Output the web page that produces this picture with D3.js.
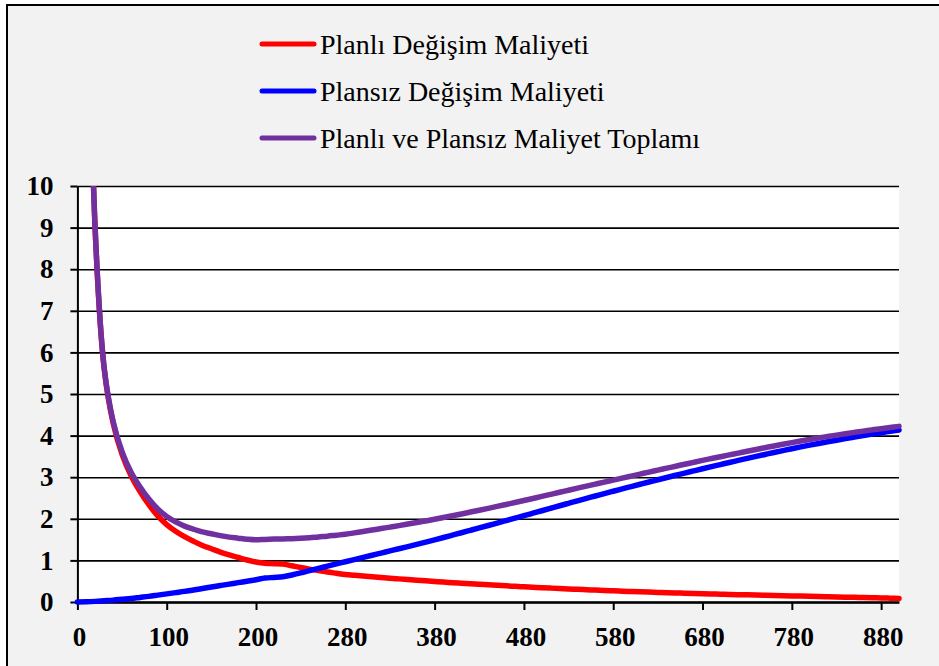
<!DOCTYPE html>
<html>
<head>
<meta charset="utf-8">
<script src="https://cdn.jsdelivr.net/npm/d3@7"></script>
<style>
html,body{margin:0;padding:0;background:#ffffff;overflow:hidden;}
svg{display:block;}
</style>
</head>
<body>
<svg id="chart" width="939" height="666"></svg>
<script>
// ---- DATA ----
const xCategories = [0,10,20,30,40,50,60,70,80,90,100,110,120,130,140,150,160,170,180,190,200,200,200,
  210,220,230,240,250,260,270,280,290,300,310,320,330,340,350,360,370,380,390,400,410,420,430,440,450,460,470,
  480,490,500,510,520,530,540,550,560,570,580,590,600,610,620,630,640,650,660,670,680,690,700,710,720,730,
  740,750,760,770,780,790,800,810,820,830,840,850,860,870,880,890,900];

const plannedCost = [null,17.5,8.9,5.6,4.3,3.55,3.04,2.66,2.34,2.07,1.86,1.7,1.57,1.46,1.36,1.28,1.2,1.13,1.07,1.01,0.96,
  0.93,0.922,0.912,0.87,0.83,0.79,0.755,0.72,0.69,0.66,
  0.642,0.624,0.606,0.589,0.572,0.556,0.54,0.524,0.509,0.494,
  0.479,0.465,0.452,0.439,0.426,0.413,0.401,0.389,0.377,0.366,
  0.355,0.344,0.334,0.324,0.314,0.304,0.295,0.286,0.277,0.268,
  0.26,0.252,0.245,0.238,0.231,0.224,0.218,0.212,0.206,0.2,
  0.194,0.188,0.182,0.177,0.172,0.167,0.162,0.157,0.152,0.147,
  0.142,0.137,0.132,0.127,0.122,0.117,0.112,0.107,0.102,0.097,
  0.092,0.087];

const unplannedCost = [0,0.005,0.015,0.03,0.045,0.065,0.085,0.11,0.135,0.165,0.195,0.225,0.255,0.29,0.325,0.36,0.395,0.43,0.465,0.5,0.535,
  0.575,0.59,0.605,0.65,0.7,0.755,0.81,0.863,0.916,0.968,
  1.02,1.072,1.124,1.176,1.228,1.28,1.333,1.386,1.44,1.495,
  1.551,1.608,1.665,1.723,1.781,1.839,1.897,1.956,2.015,2.074,
  2.134,2.194,2.254,2.314,2.373,2.432,2.49,2.548,2.606,2.663,
  2.719,2.775,2.83,2.885,2.939,2.993,3.046,3.099,3.151,3.203,
  3.254,3.304,3.354,3.403,3.452,3.5,3.547,3.594,3.64,3.685,
  3.728,3.77,3.811,3.851,3.89,3.928,3.965,4.001,4.036,4.07,
  4.103,4.135];

const totalCost = [null,17.505,8.915,5.63,4.345,3.615,3.125,2.77,2.475,2.235,2.055,1.925,1.825,1.75,1.685,1.64,1.595,1.56,1.535,1.51,1.495,
  1.505,1.512,1.517,1.52,1.53,1.545,1.565,1.583,1.606,1.628,
  1.662,1.696,1.73,1.765,1.8,1.836,1.873,1.91,1.949,1.989,
  2.03,2.073,2.117,2.162,2.207,2.252,2.298,2.345,2.392,2.44,
  2.489,2.538,2.588,2.638,2.687,2.736,2.785,2.834,2.883,2.931,
  2.979,3.027,3.075,3.123,3.17,3.217,3.264,3.311,3.357,3.403,
  3.448,3.492,3.536,3.58,3.624,3.667,3.709,3.751,3.792,3.832,
  3.87,3.907,3.943,3.978,4.012,4.045,4.077,4.108,4.138,4.167,
  4.195,4.222];

const yTicks = [0,1,2,3,4,5,6,7,8,9,10];
const xTickEvery = 10;

const seriesNames = ["Planlı Değişim Maliyeti","Plansız Değişim Maliyeti","Planlı ve Plansız Maliyet Toplamı"];
const seriesColors = ["#ff0000","#0000ff","#7030a0"];
const seriesValues = [plannedCost, unplannedCost, totalCost];

// ---- LAYOUT ----
const svg = d3.select("#chart");
const W = 939, H = 666;
const plot = {left: 77.4, right: 899, top: 186, bottom: 602};
const font = "'Liberation Serif','Times New Roman',serif";

// outer frame
svg.append("rect").attr("x",0).attr("y",0).attr("width",W).attr("height",H).attr("fill","#ffffff");
svg.append("rect").attr("x",7).attr("y",5).attr("width",W+20).attr("height",H+20)
  .attr("fill","#f2f2f2").attr("stroke","#000").attr("stroke-width",2);

// plot area
svg.append("rect").attr("x",plot.left).attr("y",plot.top)
  .attr("width",plot.right-plot.left).attr("height",plot.bottom-plot.top).attr("fill","#ffffff");

const x = d3.scaleLinear().domain([0, xCategories.length-1]).range([plot.left, plot.right]);
const y = d3.scaleLinear().domain([0, 10]).range([plot.bottom, plot.top]);

// gridlines
const grid = svg.append("g").attr("transform",`translate(${plot.left},0)`)
  .call(d3.axisLeft(y).tickValues(yTicks).tickSize(-(plot.right-plot.left)).tickFormat(""));
grid.select(".domain").remove();
grid.selectAll("line").attr("stroke","#000").attr("stroke-width",1.6);

// y axis
const ya = svg.append("g").attr("transform",`translate(${plot.left},0)`)
  .call(d3.axisLeft(y).tickValues(yTicks).tickSize(7).tickSizeOuter(0).tickPadding(17));
ya.select(".domain").attr("stroke","#000").attr("stroke-width",2);
ya.selectAll("line").attr("stroke","#000").attr("stroke-width",2);
ya.selectAll("text").attr("font-family",font).attr("font-size",27).attr("font-weight","bold").attr("fill","#000");

// x axis
const xTickVals = d3.range(0, xCategories.length, xTickEvery);
const xa = svg.append("g").attr("transform",`translate(0,${plot.bottom})`)
  .call(d3.axisBottom(x).tickValues(xTickVals).tickFormat(i => xCategories[i]).tickSize(8).tickSizeOuter(0));
xa.select(".domain").attr("stroke","#000").attr("stroke-width",2.4);
xa.selectAll("line").attr("stroke","#000").attr("stroke-width",2);
xa.selectAll("text").attr("font-family",font).attr("font-size",27).attr("font-weight","bold").attr("fill","#000")
  .attr("y",43.5).attr("dy",null).attr("dx",1.5);

// clip
svg.append("clipPath").attr("id","clip").append("rect")
  .attr("x",plot.left-4).attr("y",plot.top).attr("width",plot.right-plot.left+8).attr("height",plot.bottom-plot.top+6);

// lines
const line = d3.line()
  .defined(d => d != null)
  .x((d,i) => x(i))
  .y(d => y(d))
  .curve(d3.curveCatmullRom.alpha(0.5));

const lines = svg.append("g").attr("clip-path","url(#clip)");
seriesValues.forEach((vals, k) => {
  lines.append("path").datum(vals)
    .attr("d", line)
    .attr("fill","none")
    .attr("stroke", seriesColors[k])
    .attr("stroke-width", 5.5)
    .attr("stroke-linecap","round")
    .attr("stroke-linejoin","round");
});

// legend
const legY = [44, 91, 138];
const leg = svg.append("g");
seriesNames.forEach((name, k) => {
  leg.append("line").attr("x1",262).attr("x2",314).attr("y1",legY[k]).attr("y2",legY[k])
    .attr("stroke",seriesColors[k]).attr("stroke-width",5).attr("stroke-linecap","round");
  leg.append("text").attr("x",320).attr("y",legY[k]+10)
    .attr("font-family",font).attr("font-size",28).attr("fill","#000").text(name);
});
</script>
</body>
</html>
